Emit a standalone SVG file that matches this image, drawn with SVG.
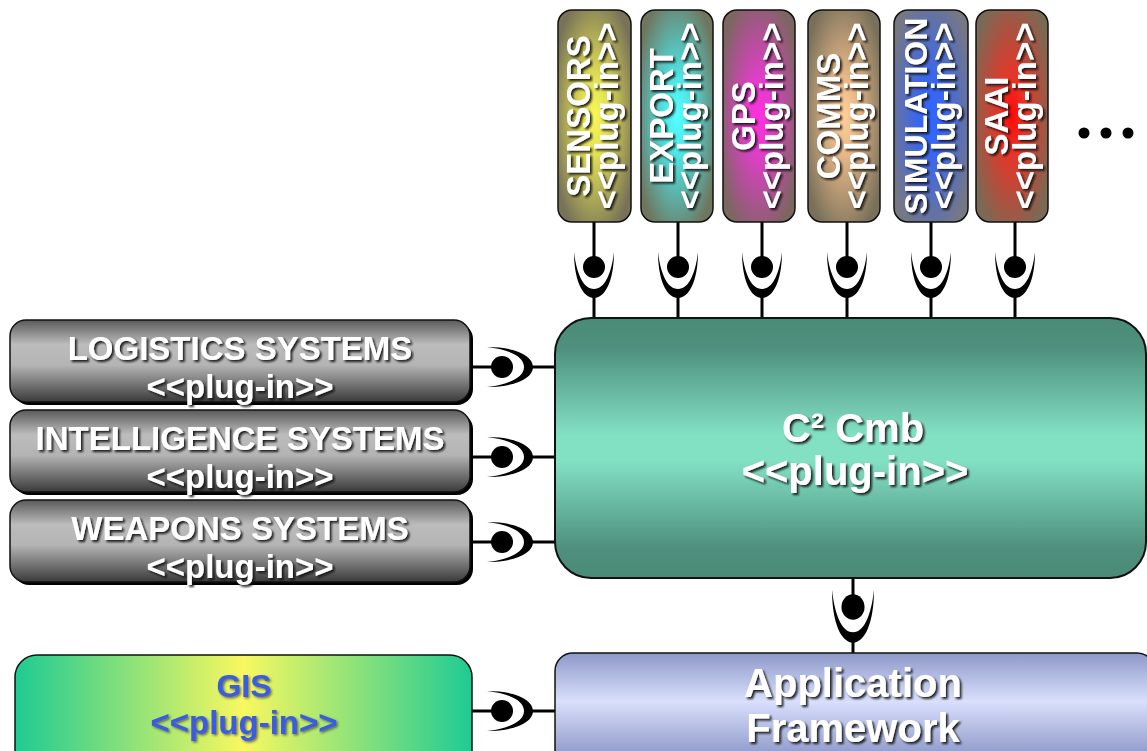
<svg xmlns="http://www.w3.org/2000/svg" xmlns:xlink="http://www.w3.org/1999/xlink" width="1147" height="751" viewBox="0 0 1147 751">
<style>
.t{font-family:"Liberation Sans",Arial,Helvetica,sans-serif;font-weight:bold;fill:#fff;text-anchor:middle}
.s33{font-size:33px}
.s32{font-size:32px}
.s40{font-size:40px}
.gis{fill:#3a5ce0}
.ln{stroke:#000;stroke-width:3;fill:none}
.box{stroke:#111;stroke-width:1.5}
</style>
<defs>
<filter id="sh" x="-10%" y="-20%" width="130%" height="160%">
<feDropShadow dx="2" dy="2" stdDeviation="0.8" flood-color="#111" flood-opacity="0.9"/>
</filter>
<filter id="shl" x="-10%" y="-20%" width="130%" height="160%">
<feDropShadow dx="1.5" dy="1.5" stdDeviation="0.8" flood-color="#223" flood-opacity="0.6"/>
</filter>
<linearGradient id="gGray" x1="0" y1="0" x2="0" y2="1">
<stop offset="0" stop-color="#5a5a5a"/>
<stop offset="0.3" stop-color="#bcbcbc"/>
<stop offset="0.55" stop-color="#b4b4b4"/>
<stop offset="1" stop-color="#3a3a3a"/>
</linearGradient>
<linearGradient id="gC2" x1="0" y1="0" x2="0" y2="1">
<stop offset="0" stop-color="#4a8a77"/>
<stop offset="0.12" stop-color="#4f917e"/>
<stop offset="0.45" stop-color="#82e0c3"/>
<stop offset="0.55" stop-color="#82e0c3"/>
<stop offset="0.88" stop-color="#4f917e"/>
<stop offset="1" stop-color="#4a8a77"/>
</linearGradient>
<linearGradient id="gApp" x1="0" y1="0" x2="0" y2="1">
<stop offset="0" stop-color="#8e99c9"/>
<stop offset="0.42" stop-color="#d9dffc"/>
<stop offset="0.9" stop-color="#8e99c9"/>
</linearGradient>
<linearGradient id="gGis" x1="0" y1="0" x2="1" y2="0">
<stop offset="0" stop-color="#1ecb94"/>
<stop offset="0.5" stop-color="#f8f860"/>
<stop offset="1" stop-color="#1ecb94"/>
</linearGradient>
<radialGradient id="gSen" cx="0.5" cy="0.5" r="0.6"><stop offset="0" stop-color="#f8f858"/><stop offset="0.3" stop-color="#e2e055"/><stop offset="1" stop-color="#777258"/></radialGradient>
<radialGradient id="gExp" cx="0.5" cy="0.5" r="0.6"><stop offset="0" stop-color="#55ffff"/><stop offset="0.3" stop-color="#4ee6e6"/><stop offset="1" stop-color="#6f7660"/></radialGradient>
<radialGradient id="gGps" cx="0.5" cy="0.5" r="0.6"><stop offset="0" stop-color="#ff2ee0"/><stop offset="0.3" stop-color="#e03ec8"/><stop offset="1" stop-color="#7c6660"/></radialGradient>
<radialGradient id="gCom" cx="0.5" cy="0.5" r="0.6"><stop offset="0" stop-color="#ffd09a"/><stop offset="0.3" stop-color="#e8b888"/><stop offset="1" stop-color="#78705a"/></radialGradient>
<radialGradient id="gSim" cx="0.5" cy="0.5" r="0.6"><stop offset="0" stop-color="#2e66ff"/><stop offset="0.3" stop-color="#3a66ee"/><stop offset="1" stop-color="#767884"/></radialGradient>
<radialGradient id="gSaa" cx="0.5" cy="0.5" r="0.6"><stop offset="0" stop-color="#ff0808"/><stop offset="0.3" stop-color="#e83428"/><stop offset="1" stop-color="#7a6a55"/></radialGradient>
<g id="iface">
<circle r="11" fill="#000"/>
<path d="M-20,-15 C-20,14 -11,31 0,31 C11,31 20,14 20,-15 C17.5,6 11,22 0,22 C-11,22 -17.5,6 -20,-15 Z" fill="#000"/>
</g>
</defs>
<rect width="1147" height="751" fill="#fff"/>

<g id="connectors">
<path class="ln" d="M594,222V267M594,296V318M678,222V267M678,296V318M762,222V267M762,296V318M847,222V267M847,296V318M931,222V267M931,296V318M1015,222V267M1015,296V318"/>
<path class="ln" d="M470,367H502M531,367H555M470,457H502M531,457H555M470,542H502M531,542H555M472,711H502M531,711H555"/>
<path class="ln" d="M853,578V607M853,636V653"/>
<use xlink:href="#iface" href="#iface" transform="translate(594,267)"/>
<use xlink:href="#iface" href="#iface" transform="translate(678,267)"/>
<use xlink:href="#iface" href="#iface" transform="translate(762,267)"/>
<use xlink:href="#iface" href="#iface" transform="translate(847,267)"/>
<use xlink:href="#iface" href="#iface" transform="translate(931,267)"/>
<use xlink:href="#iface" href="#iface" transform="translate(1015,267)"/>
<use xlink:href="#iface" href="#iface" transform="translate(502,367) rotate(-90)"/>
<use xlink:href="#iface" href="#iface" transform="translate(502,457) rotate(-90)"/>
<use xlink:href="#iface" href="#iface" transform="translate(502,542) rotate(-90)"/>
<use xlink:href="#iface" href="#iface" transform="translate(502,711) rotate(-90)"/>
<use xlink:href="#iface" href="#iface" transform="translate(853,607) scale(1.05,1.15)"/>
</g>

<g id="sensors">
<rect class="box" x="558" y="10" width="73" height="212" rx="14" fill="url(#gSen)"/>
<g filter="url(#sh)"><text class="t s33" transform="translate(590,116) rotate(-90)">SENSORS</text><text class="t s33" transform="translate(618,116) rotate(-90)">&lt;&lt;plug-in&gt;&gt;</text></g>
</g>
<g id="export">
<rect class="box" x="641" y="10" width="72" height="212" rx="14" fill="url(#gExp)"/>
<g filter="url(#sh)"><text class="t s33" transform="translate(673,116) rotate(-90)">EXPORT</text><text class="t s33" transform="translate(701,116) rotate(-90)">&lt;&lt;plug-in&gt;&gt;</text></g>
</g>
<g id="gps">
<rect class="box" x="723" y="10" width="72" height="212" rx="14" fill="url(#gGps)"/>
<g filter="url(#sh)"><text class="t s33" transform="translate(755,116) rotate(-90)">GPS</text><text class="t s33" transform="translate(783,116) rotate(-90)">&lt;&lt;plug-in&gt;&gt;</text></g>
</g>
<g id="comms">
<rect class="box" x="808" y="10" width="72" height="212" rx="14" fill="url(#gCom)"/>
<g filter="url(#sh)"><text class="t s33" transform="translate(840,116) rotate(-90)">COMMS</text><text class="t s33" transform="translate(868,116) rotate(-90)">&lt;&lt;plug-in&gt;&gt;</text></g>
</g>
<g id="simulation">
<rect class="box" x="894" y="10" width="74" height="212" rx="14" fill="url(#gSim)"/>
<g filter="url(#sh)"><text class="t s32" transform="translate(927,116) rotate(-90)">SIMULATION</text><text class="t s33" transform="translate(955,116) rotate(-90)">&lt;&lt;plug-in&gt;&gt;</text></g>
</g>
<g id="saai">
<rect class="box" x="976" y="10" width="72" height="212" rx="14" fill="url(#gSaa)"/>
<g filter="url(#sh)"><text class="t s33" transform="translate(1008,116) rotate(-90)">SAAI</text><text class="t s33" transform="translate(1036,116) rotate(-90)">&lt;&lt;plug-in&gt;&gt;</text></g>
</g>

<g id="more">
<circle cx="1084" cy="133" r="5.5" fill="#000"/>
<circle cx="1106" cy="133" r="5.5" fill="#000"/>
<circle cx="1128" cy="133" r="5.5" fill="#000"/>
</g>

<g id="logistics">
<rect x="13" y="323" width="460" height="82" rx="16" fill="#000"/>
<rect class="box" x="10" y="320" width="460" height="82" rx="16" fill="url(#gGray)"/>
<g filter="url(#sh)"><text class="t s33" x="240" y="360">LOGISTICS SYSTEMS</text><text class="t s33" x="240" y="398">&lt;&lt;plug-in&gt;&gt;</text></g>
</g>
<g id="intelligence">
<rect x="13" y="413" width="460" height="82" rx="16" fill="#000"/>
<rect class="box" x="10" y="410" width="460" height="82" rx="16" fill="url(#gGray)"/>
<g filter="url(#sh)"><text class="t s33" x="240" y="450">INTELLIGENCE SYSTEMS</text><text class="t s33" x="240" y="488">&lt;&lt;plug-in&gt;&gt;</text></g>
</g>
<g id="weapons">
<rect x="13" y="503" width="460" height="82" rx="16" fill="#000"/>
<rect class="box" x="10" y="500" width="460" height="82" rx="16" fill="url(#gGray)"/>
<g filter="url(#sh)"><text class="t s33" x="240" y="540">WEAPONS SYSTEMS</text><text class="t s33" x="240" y="578">&lt;&lt;plug-in&gt;&gt;</text></g>
</g>

<g id="c2cmb">
<rect x="555" y="318" width="591" height="260" rx="36" fill="url(#gC2)" stroke="#111" stroke-width="2"/>
<g filter="url(#sh)"><text class="t s40" x="853" y="442">C² Cmb</text><text class="t s40" x="855" y="485">&lt;&lt;plug-in&gt;&gt;</text></g>
</g>

<g id="gis">
<rect class="box" x="15" y="655" width="457" height="120" rx="22" fill="url(#gGis)"/>
<g filter="url(#shl)"><text class="t s32 gis" x="244" y="697">GIS</text><text class="t s33 gis" x="244" y="734">&lt;&lt;plug-in&gt;&gt;</text></g>
</g>

<g id="appframework">
<rect class="box" x="555" y="653" width="600" height="115" rx="18" fill="url(#gApp)"/>
<g filter="url(#sh)"><text class="t s40" x="853" y="697">Application</text><text class="t s40" x="853" y="742">Framework</text></g>
</g>
</svg>
